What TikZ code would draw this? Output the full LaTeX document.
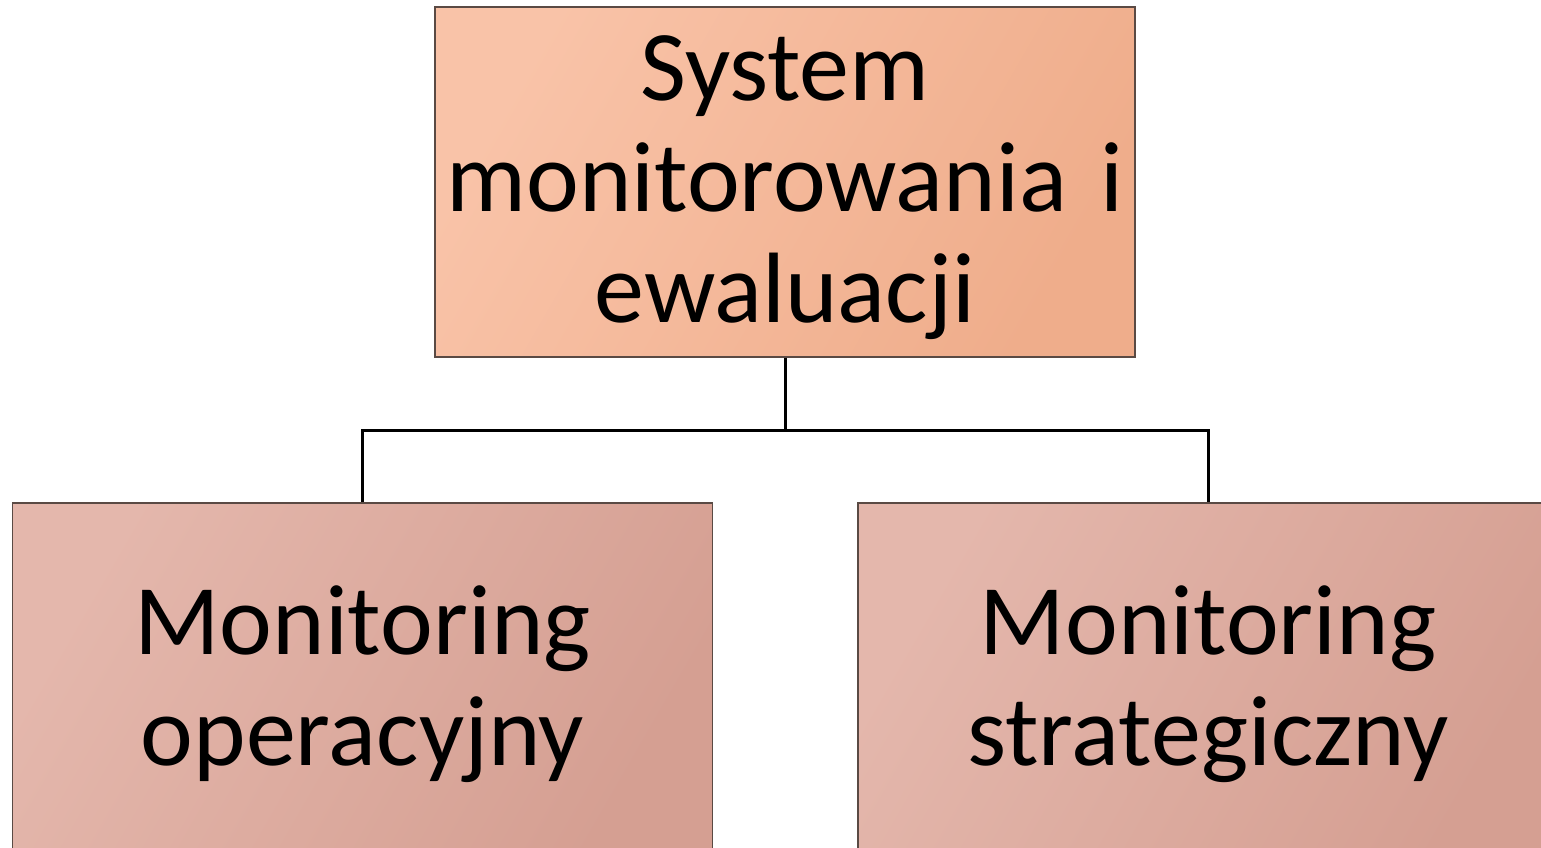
\documentclass[tikz,border=0pt]{standalone}
\usepackage{fontspec}
\setmainfont{Carlito}
\usepackage{tikz}
\usetikzlibrary{positioning}

\definecolor{topA}{HTML}{F9C3A8}
\definecolor{topB}{HTML}{EFAD8B}
\definecolor{subA}{HTML}{E4B7AC}
\definecolor{subB}{HTML}{D59F92}
\definecolor{edge}{HTML}{5A4A44}

\begin{document}
\begin{tikzpicture}[
    x=1pt, y=-1pt,
    block/.style={rectangle, draw=edge, line width=1.2pt, minimum width=700pt, minimum height=350pt, inner sep=0pt},
    mainbox/.style={block, left color=topA, right color=topB, shading angle=60},
    subbox/.style={block, left color=subA, right color=subB, shading angle=60},
    boxtext/.style={text width=680pt, align=center, font=\fontsize{100}{111}\selectfont, inner sep=0pt, yshift=-6pt},
    link/.style={line width=3pt, black}
]
\clip (0,0) rectangle (1541,848);

\node[mainbox] (sys) at (785,182) {};
\node[subbox] (oper) at (362.5,678) {};
\node[subbox] (strat) at (1208,678) {};

\node[boxtext] (sysT) at (sys) {System\\monitorowania i\\ewaluacji};
\node[boxtext] (operT) at (oper) {Monitoring\\operacyjny};
\node[boxtext] (stratT) at (strat) {Monitoring\\strategiczny};

\coordinate (fork) at (785,430);

\draw[link] (sys) -- (fork);
\draw[link] (fork) -| (oper);
\draw[link] (fork) -| (strat);

\end{tikzpicture}
\end{document}
